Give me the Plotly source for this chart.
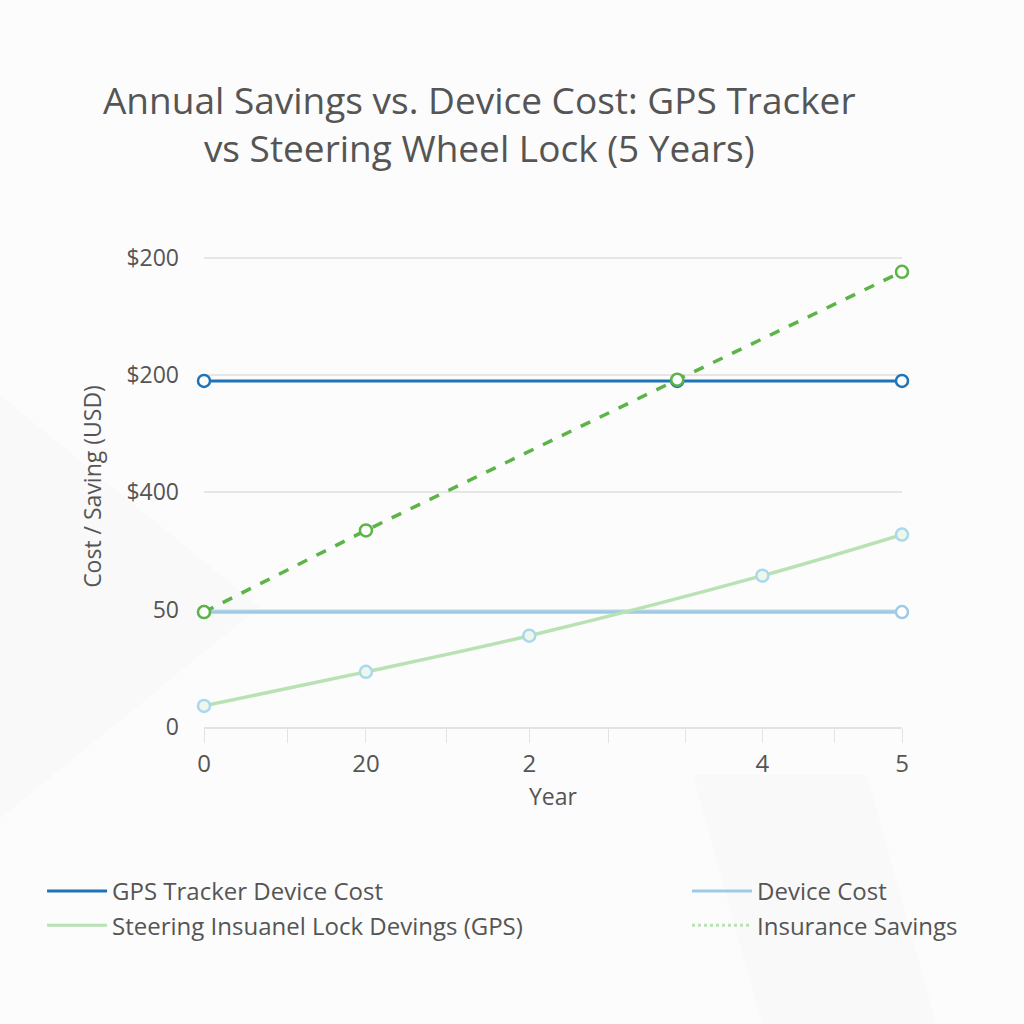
import plotly.graph_objects as go

# ---- data ----
gps_cost_x = [0, 3.39, 5]
gps_cost_y = [147.5, 147.5, 147.5]
device_cost_x = [0, 5]
device_cost_y = [49, 49]
steer_x = [0, 1.16, 2.33, 4.0, 5]
steer_y = [9, 23.5, 38.9, 64.5, 82]
ins_x = [0, 1.16, 3.39, 5]
ins_y = [49, 83.8, 148, 194]

y_tickvals = [0, 50, 100, 150, 200]
y_ticktext = ["0", "50", "$400", "$200", "$200"]
x_tickvals = [0, 1.16, 2.33, 4.0, 5]
x_ticktext = ["0", "20", "2", "4", "5"]
x_minor = [0, 0.6, 1.16, 1.74, 2.33, 2.9, 3.45, 4.0, 4.52, 5]

legend1_names = ["GPS Tracker Device Cost", "Steering Insuanel Lock Devings (GPS)"]
legend2_names = ["Device Cost", "Insurance Savings"]

DARK = "#1f73b7"
LIGHTB = "#9dcbe6"
GREEN = "#5bb445"
LGREEN = "#b9e2b4"
TXT = "#555555"
FONT = "Open Sans"

fig = go.Figure()

fig.add_trace(go.Scatter(x=device_cost_x, y=device_cost_y, mode="lines+markers",
                         line=dict(color=LIGHTB, width=3.5),
                         marker=dict(size=12, color="white", line=dict(color=LIGHTB, width=2.5)),
                         showlegend=False, cliponaxis=False))
fig.add_trace(go.Scatter(x=steer_x, y=steer_y, mode="lines+markers",
                         line=dict(color=LGREEN, width=3.5, shape="spline"),
                         marker=dict(size=12, color="#eef7ea", line=dict(color="#a9d8ef", width=2.5)),
                         showlegend=False, cliponaxis=False))
fig.add_trace(go.Scatter(x=gps_cost_x, y=gps_cost_y, mode="lines+markers",
                         line=dict(color=DARK, width=3),
                         marker=dict(size=12, color="white", line=dict(color=DARK, width=2.5)),
                         showlegend=False, cliponaxis=False))
fig.add_trace(go.Scatter(x=ins_x, y=ins_y, mode="lines+markers",
                         line=dict(color=GREEN, width=3.5, dash="dash"),
                         marker=dict(size=12, color="white", line=dict(color=GREEN, width=2.5)),
                         showlegend=False, cliponaxis=False))

# legend-only entries
fig.add_trace(go.Scatter(x=[None], y=[None], mode="lines", name=legend1_names[0],
                         line=dict(color=DARK, width=3), legend="legend"))
fig.add_trace(go.Scatter(x=[None], y=[None], mode="lines", name=legend1_names[1],
                         line=dict(color=LGREEN, width=3), legend="legend"))
fig.add_trace(go.Scatter(x=[None], y=[None], mode="lines", name=legend2_names[0],
                         line=dict(color=LIGHTB, width=3), legend="legend2"))
fig.add_trace(go.Scatter(x=[None], y=[None], mode="lines", name=legend2_names[1],
                         line=dict(color=LGREEN, width=3, dash="dot"), legend="legend2"))

# faint background shapes
fig.add_shape(type="path", xref="paper", yref="paper",
              path="M -0.3 -0.2 L 0.08 0.25 L -0.3 0.7 Z",
              fillcolor="rgba(0,0,0,0.012)", line_width=0, layer="below")
fig.add_shape(type="path", xref="paper", yref="paper",
              path="M 0.7 -0.1 L 0.95 -0.1 L 1.05 -0.62 L 0.8 -0.62 Z",
              fillcolor="rgba(0,0,0,0.01)", line_width=0, layer="below")

fig.update_layout(
    width=1024, height=1024,
    margin=dict(l=204, r=122, t=246, b=297),
    paper_bgcolor="#fcfcfc",
    plot_bgcolor="rgba(0,0,0,0)",
    font=dict(family=FONT, color=TXT, size=20),
    title=dict(text="Annual Savings vs. Device Cost: GPS Tracker<br>vs Steering Wheel Lock (5 Years)",
               x=0.468, xanchor="center", y=0.889, yanchor="middle",
               font=dict(size=37, color=TXT, family=FONT)),
    xaxis=dict(range=[0, 5], tickmode="array", tickvals=x_tickvals, ticktext=x_ticktext,
               showgrid=False, zeroline=False, showline=True, linecolor="#e3e3e3", linewidth=2,
               ticks="outside", ticklen=14, tickcolor="#e3e3e3", tickwidth=1,
               minor=dict(tickmode="array", tickvals=x_minor, ticks="outside", ticklen=14,
                          tickcolor="#e3e3e3", showgrid=False),
               tickfont=dict(size=24, color=TXT),
               title=dict(text="Year", font=dict(size=23, color=TXT), standoff=11)),
    yaxis=dict(range=[0, 205], tickmode="array", tickvals=y_tickvals, ticktext=y_ticktext,
               showgrid=True, gridcolor="#e6e6e6", gridwidth=1.5, zeroline=False,
               showline=False, ticks="", ticklabelstandoff=24,
               tickfont=dict(size=23, color=TXT),
               title=dict(text="Cost / Saving (USD)", font=dict(size=23, color=TXT), standoff=18)),
    legend=dict(x=-0.232, xanchor="left", y=-0.295, yanchor="top", orientation="v",
                bgcolor="rgba(0,0,0,0)", font=dict(size=24, color=TXT), tracegroupgap=0,
                itemwidth=60),
    legend2=dict(x=0.692, xanchor="left", y=-0.295, yanchor="top", orientation="v",
                 bgcolor="rgba(0,0,0,0)", font=dict(size=24, color=TXT), tracegroupgap=0,
                 itemwidth=60),
)

fig.write_html("out.html")
